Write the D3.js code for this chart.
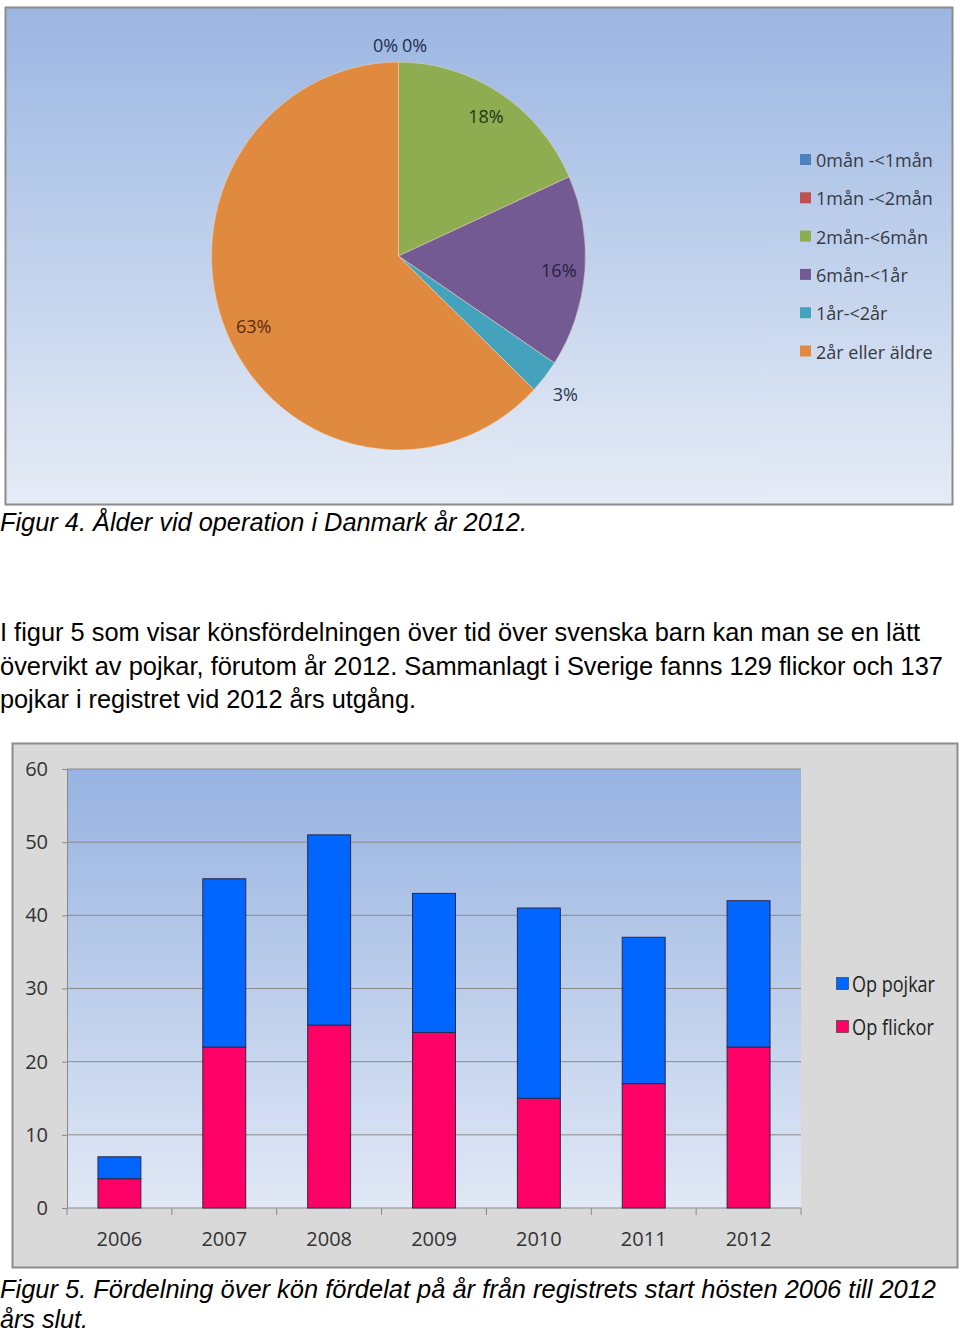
<!DOCTYPE html>
<html><head><meta charset="utf-8">
<script src="https://cdn.jsdelivr.net/npm/d3@7"></script>
<style>
body{margin:0;background:#fff;}
svg{display:block;}
</style></head>
<body>
<svg id="c" width="960" height="1335"></svg>
<script>
// ---- Figure 4 data (pie) ----
const ageCategories = ["0mån -<1mån","1mån -<2mån","2mån-<6mån","6mån-<1år","1år-<2år","2år eller äldre"];
const ageShares = [0, 0, 18.3, 16.0, 2.8, 62.9];
const ageColors = ["#4f81bd","#c0504d","#8eac50","#735a92","#45a2bd","#e08a3f"];
// ---- Figure 5 data (stacked bars) ----
const years = ["2006","2007","2008","2009","2010","2011","2012"];
const flickor = [4, 22, 25, 24, 15, 17, 22];
const pojkar = [3, 23, 26, 19, 26, 20, 20];
const barSeries = ["Op pojkar","Op flickor"];
const barColors = {"Op pojkar":"#0066ff","Op flickor":"#ff0066"};
const yTicks = [0,10,20,30,40,50,60];

const svg = d3.select("#c");
const defs = svg.append("defs");
const g1 = defs.append("linearGradient").attr("id","pieBg").attr("x1",0).attr("y1",0).attr("x2",0).attr("y2",1);
g1.append("stop").attr("offset","0%").attr("stop-color","#9bb6e2");
g1.append("stop").attr("offset","100%").attr("stop-color","#e6ecf6");
const g2 = defs.append("linearGradient").attr("id","barBg").attr("x1",0).attr("y1",0).attr("x2",0).attr("y2",1);
g2.append("stop").attr("offset","0%").attr("stop-color","#97b3e1");
g2.append("stop").attr("offset","100%").attr("stop-color","#e1e8f5");

const chartFont = "'Open Sans',sans-serif";
const bodyFont = "'Liberation Sans',Arial,sans-serif";

// ---------- Pie panel ----------
svg.append("rect").attr("x",5.5).attr("y",7.5).attr("width",947).attr("height",497)
  .attr("fill","url(#pieBg)").attr("stroke","#8c8c8c").attr("stroke-width",2);

const cx = 398.5, cy = 256, R = 187;
const pie = d3.pie().sort(null).value(d=>d);
const arcs = pie(ageShares);
const arc = d3.arc().innerRadius(0).outerRadius(R);
const pg = svg.append("g").attr("transform",`translate(${cx},${cy})`);
pg.append("g").attr("transform","scale(1,1.037)")
  .selectAll("path").data(arcs).join("path")
  .attr("d",arc).attr("fill",(d,i)=>ageColors[i])
  .attr("stroke","#f3d9c0").attr("stroke-width",0.8).attr("stroke-opacity",0.6);

const labelColors = ["#1f2d4d","#1f2d4d","#24361a","#2a2140","#2a3550","#5a2a10"];
let zeroIdx = 0;
pg.selectAll("text.pl").data(arcs).join("text").attr("class","pl")
  .each(function(d,i){
    const a = (d.startAngle + d.endAngle)/2;
    const frac = (d.endAngle - d.startAngle)/(2*Math.PI);
    let r = frac === 0 ? R*1.09 : (frac < 0.05 ? R*1.14 : R*0.86);
    let x = Math.sin(a)*r, y = -Math.cos(a)*r*1.037;
    if (frac === 0) { x += (zeroIdx===0 ? -13 : 16); zeroIdx++; }
    if (frac > 0.5) { x += 3; y += 4; }
    d3.select(this).attr("x",x).attr("y",y);
  })
  .attr("text-anchor","middle").attr("dominant-baseline","central")
  .attr("font-family",chartFont).attr("font-size",18)
  .attr("fill",(d,i)=>labelColors[i])
  .text(d=>d3.format(".0f")(d.data)+"%");

const lg = svg.append("g").attr("transform","translate(800,160)");
ageCategories.forEach((c,i)=>{
  const row = lg.append("g").attr("transform",`translate(0,${i*38.3})`);
  row.append("rect").attr("x",0).attr("y",-6).attr("width",11).attr("height",11).attr("fill",ageColors[i]);
  row.append("text").attr("x",16).attr("y",0).attr("dominant-baseline","central")
    .attr("font-family",chartFont).attr("font-size",18).attr("fill","#353a45").text(c);
});

// ---------- Text ----------
svg.append("text").attr("x",0).attr("y",531).attr("font-family",bodyFont).attr("font-style","italic")
  .attr("font-size",25).attr("fill","#000")
  .attr("textLength",527).attr("lengthAdjust","spacingAndGlyphs")
  .text("Figur 4. Ålder vid operation i Danmark år 2012.");
const para = ["I figur 5 som visar könsfördelningen över tid över svenska barn kan man se en lätt",
  "övervikt av pojkar, förutom år 2012. Sammanlagt i Sverige fanns 129 flickor och 137",
  "pojkar i registret vid 2012 års utgång."];
const paraW = [920, 943, 416];
para.forEach((t,i)=>svg.append("text").attr("x",0).attr("y",641+i*33.5).attr("font-family",bodyFont)
  .attr("font-size",25).attr("fill","#000")
  .attr("textLength",paraW[i]).attr("lengthAdjust","spacingAndGlyphs").text(t));

// ---------- Bar panel ----------
svg.append("rect").attr("x",12.5).attr("y",743.5).attr("width",945).attr("height",524)
  .attr("fill","#d9d9d9").attr("stroke","#8c8c8c").attr("stroke-width",2);

const pl = 67, pr = 801, pt = 769, pb = 1208;
const x = d3.scaleBand().domain(years).range([pl,pr]).paddingInner(0.59).paddingOuter(0.3);
const y = d3.scaleLinear().domain([0,60]).range([pb,pt]);
svg.append("rect").attr("x",pl).attr("y",pt).attr("width",pr-pl).attr("height",pb-pt).attr("fill","url(#barBg)");

svg.append("g").selectAll("line").data(yTicks.filter(v=>v>0)).join("line")
  .attr("x1",pl).attr("x2",pr).attr("y1",d=>y(d)).attr("y2",d=>y(d))
  .attr("stroke","#8a8a8a").attr("stroke-width",1);

const yAxis = svg.append("g").attr("transform",`translate(${pl},0)`)
  .call(d3.axisLeft(y).tickValues(yTicks).tickSize(5).tickPadding(14));
yAxis.select(".domain").attr("stroke","#8a8a8a");
yAxis.selectAll(".tick line").attr("stroke","#8a8a8a");
yAxis.selectAll("text").attr("font-family",chartFont).attr("font-size",20).attr("fill","#333");

const xb = d3.scaleLinear().domain([0,years.length]).range([pl,pr]);
const xAxis = svg.append("g").attr("transform",`translate(0,${pb})`);
xAxis.append("line").attr("x1",pl).attr("x2",pr).attr("y1",0).attr("y2",0).attr("stroke","#8a8a8a");
xAxis.selectAll("line.t").data(d3.range(years.length+1)).join("line").attr("class","t")
  .attr("x1",d=>xb(d)).attr("x2",d=>xb(d)).attr("y1",0).attr("y2",7).attr("stroke","#8a8a8a");
xAxis.selectAll("text").data(years).join("text")
  .attr("x",(d,i)=>(xb(i)+xb(i+1))/2).attr("y",38).attr("text-anchor","middle")
  .attr("font-family",chartFont).attr("font-size",20).attr("fill","#333").text(d=>d);

const rows = years.map((yr,i)=>({year:yr,"Op flickor":flickor[i],"Op pojkar":pojkar[i]}));
const stack = d3.stack().keys(["Op flickor","Op pojkar"]);
const layers = stack(rows);
const bw = x.bandwidth();
svg.append("g").selectAll("g").data(layers).join("g").attr("fill",d=>barColors[d.key])
  .selectAll("rect").data(d=>d).join("rect")
  .attr("x",(d,i)=>(xb(i)+xb(i+1))/2 - bw/2).attr("width",bw)
  .attr("y",d=>y(d[1])).attr("height",d=>y(d[0])-y(d[1]))
  .attr("stroke","#2a2a4a").attr("stroke-width",1);

const blg = svg.append("g").attr("transform","translate(836,984)");
const legW = [83, 82];
barSeries.forEach((s,i)=>{
  const row = blg.append("g").attr("transform",`translate(0,${i*43})`);
  row.append("rect").attr("x",0.5).attr("y",-6.5).attr("width",12).attr("height",12).attr("fill",barColors[s]).attr("stroke","#333").attr("stroke-width",0.6);
  row.append("text").attr("x",16).attr("y",0).attr("dominant-baseline","central")
    .attr("font-family",chartFont).attr("font-size",21).attr("fill","#222")
    .attr("textLength",legW[i]).attr("lengthAdjust","spacingAndGlyphs").text(s);
});

svg.append("text").attr("x",0).attr("y",1298).attr("font-family",bodyFont).attr("font-style","italic")
  .attr("font-size",25).attr("fill","#000")
  .attr("textLength",936).attr("lengthAdjust","spacingAndGlyphs")
  .text("Figur 5. Fördelning över kön fördelat på år från registrets start hösten 2006 till 2012");
svg.append("text").attr("x",0).attr("y",1328).attr("font-family",bodyFont).attr("font-style","italic")
  .attr("font-size",25).attr("fill","#000")
  .attr("textLength",88).attr("lengthAdjust","spacingAndGlyphs")
  .text("års slut.");
</script>
</body></html>
